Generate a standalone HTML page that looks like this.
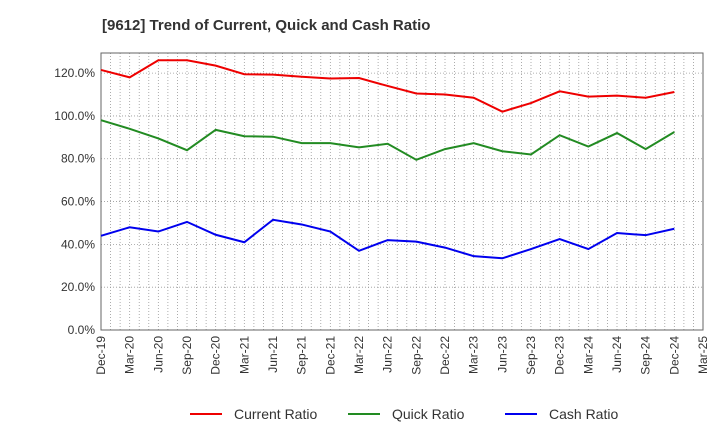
<!DOCTYPE html>
<html><head><meta charset="utf-8"><style>
body{margin:0;background:#fff;font-family:"Liberation Sans",Arial,sans-serif}
svg text{font-family:"Liberation Sans",Arial,sans-serif}
</style></head><body>
<svg id="chart" width="720" height="440" xmlns="http://www.w3.org/2000/svg">
<text x="102" y="30" font-size="15" font-weight="bold" fill="#333">[9612]  Trend of Current, Quick and Cash Ratio</text>
<g id="grid"></g><g id="axes"></g><g id="series"></g><g id="legend"></g>
</svg>
<script>
const categories=["Dec-19","Mar-20","Jun-20","Sep-20","Dec-20","Mar-21","Jun-21","Sep-21","Dec-21","Mar-22","Jun-22","Sep-22","Dec-22","Mar-23","Jun-23","Sep-23","Dec-23","Mar-24","Jun-24","Sep-24","Dec-24","Mar-25"];
const currentRatio=[121.5,118,126,126,123.5,119.5,119.3,118.3,117.5,117.7,114,110.5,110,108.5,102,106,111.5,109,109.5,108.5,111.2];
const quickRatio=[98,94,89.5,84,93.5,90.5,90.3,87.3,87.3,85.3,87,79.5,84.5,87.3,83.5,82,91,85.7,92,84.5,92.5];
const cashRatio=[44,48,46,50.5,44.5,41,51.5,49.3,46,37,42,41.3,38.5,34.5,33.5,37.8,42.5,37.8,45.3,44.3,47.3];
const yTicks=[0,20,40,60,80,100,120];
const seriesNames=["Current Ratio","Quick Ratio","Cash Ratio"];
const seriesColors=["#e00","#228b22","#00e"];

const NS="http://www.w3.org/2000/svg";
const L=101,R=703,T=53,B=330,YMAX=129.4;
const x=i=>L+(R-L)*i/(categories.length-1);
const y=v=>B-(B-T)*v/YMAX;
function mk(tag,attrs,parent){const e=document.createElementNS(NS,tag);for(const k in attrs)e.setAttribute(k,attrs[k]);parent.appendChild(e);return e;}
const grid=document.getElementById('grid'),axes=document.getElementById('axes'),ser=document.getElementById('series'),leg=document.getElementById('legend');
for(let m=0;m<=(categories.length-1)*3;m++){
  const xm=x(m/3);
  const gl=mk('line',{x1:xm,x2:xm,y1:T,y2:B,stroke:'#999','stroke-dasharray':'1,2','stroke-width':0.8},grid);
  
  
}
categories.forEach((c,i)=>{
  const t=mk('text',{x:0,y:0,'font-size':12,fill:'#333','text-anchor':'end',transform:`translate(${x(i)+4},${B+6}) rotate(-90)`},axes);
  t.textContent=c;
  
  
});
yTicks.forEach(v=>{
  const gl=mk('line',{x1:L,x2:R,y1:y(v),y2:y(v),stroke:'#999','stroke-dasharray':'1,2','stroke-width':0.8},grid);
  
  
  const t=mk('text',{x:L-6,y:y(v)+4,'font-size':12,fill:'#333','text-anchor':'end'},axes);
  t.textContent=v.toFixed(1)+'%';
  
  
});
const frame=mk('rect',{x:L,y:T,width:R-L,height:B-T,fill:'none',stroke:'#666','stroke-width':1},axes);


[currentRatio,quickRatio,cashRatio].forEach((d,k)=>{
  const p=mk('polyline',{points:d.map((v,i)=>x(i)+','+y(v)).join(' '),fill:'none',stroke:seriesColors[k],'stroke-width':2},ser);
  
  
});
const lx=[190,348,505];
seriesNames.forEach((n,k)=>{
  const g=mk('g',{},leg);
  
  
  mk('line',{x1:lx[k],x2:lx[k]+32,y1:414,y2:414,stroke:seriesColors[k],'stroke-width':2},g);
  const t=mk('text',{x:lx[k]+44,y:419,'font-size':14,fill:'#333'},g);
  t.textContent=n;
});
</script>
</body></html>
